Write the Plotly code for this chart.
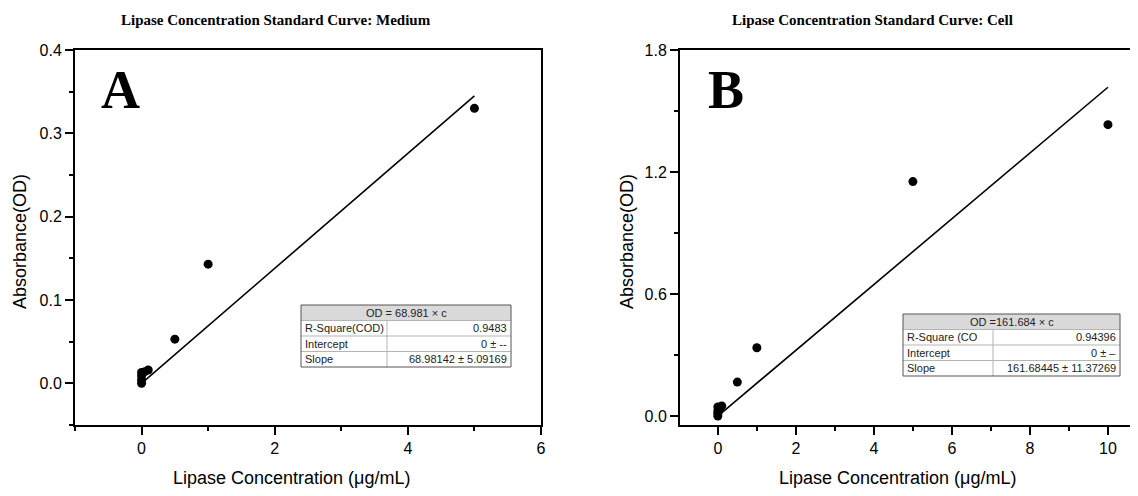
import plotly.graph_objects as go

# ---------------- data ----------------
medium_conc = [0, 0, 0, 0, 0.05, 0.1, 0.5, 1, 5]
medium_od = [0.0, 0.004, 0.009, 0.013, 0.014, 0.016, 0.053, 0.143, 0.330]
medium_slope = 0.068981
medium_fit_x = [0, 5]

cell_conc = [0, 0, 0, 0, 0.05, 0.1, 0.5, 1, 5, 10]
cell_od = [0.0, 0.012, 0.025, 0.045, 0.035, 0.05, 0.167, 0.336, 1.153, 1.433]
cell_slope = 0.161684
cell_fit_x = [0, 10]

medium_table = [["R-Square(COD)", "0.9483"], ["Intercept", "0 ± --"], ["Slope", "68.98142 ± 5.09169"]]
medium_eq = "OD = 68.981 × c"
cell_table = [["R-Square (CO", "0.94396"], ["Intercept", "0 ± –"], ["Slope", "161.68445 ± 11.37269"]]
cell_eq = "OD =161.684 × c"

# page body has an 8px margin: the figure occupies 8..1138 x 8..496 of the window
OFF = 8
W, H = 1138 - OFF, 496 - OFF
def px(x):
    return (x - OFF) / W
def py(y):
    return 1 - (y - OFF) / H

SANS = "Liberation Sans, Arial, sans-serif"
SERIF = "Liberation Serif, Times New Roman, serif"

fig = go.Figure()
fig.add_trace(go.Scatter(x=medium_conc, y=medium_od, mode="markers",
                         marker=dict(color="black", size=9), xaxis="x", yaxis="y", showlegend=False))
fig.add_trace(go.Scatter(x=medium_fit_x, y=[medium_slope * v for v in medium_fit_x], mode="lines",
                         line=dict(color="black", width=1.6), xaxis="x", yaxis="y", showlegend=False))
fig.add_trace(go.Scatter(x=cell_conc, y=cell_od, mode="markers",
                         marker=dict(color="black", size=9), xaxis="x2", yaxis="y2", showlegend=False))
fig.add_trace(go.Scatter(x=cell_fit_x, y=[cell_slope * v for v in cell_fit_x], mode="lines",
                         line=dict(color="black", width=1.6), xaxis="x2", yaxis="y2", showlegend=False))

def axis_common(**kw):
    d = dict(showline=True, linecolor="black", linewidth=2, ticks="outside", ticklen=8,
             tickwidth=2, tickcolor="black", showgrid=False, zeroline=False,
             tickfont=dict(family=SANS, size=16, color="black"), automargin=False)
    d.update(kw)
    return d

def minor(dt):
    return dict(dtick=dt, tick0=0, ticks="outside", ticklen=4, tickwidth=2, tickcolor="black")

ydom = [py(425), py(50)]
fig.update_layout(
    width=W, height=H, margin=dict(l=0, r=0, t=0, b=0),
    paper_bgcolor="white", plot_bgcolor="white",
    xaxis=axis_common(domain=[px(75), px(541)], range=[-1, 6], tick0=0, dtick=2, mirror=True, anchor="y",
                      minor=minor(1)),
    yaxis=axis_common(domain=ydom, range=[-0.05, 0.4], tick0=0, dtick=0.1, tickformat=".1f", mirror=True, anchor="x",
                      minor=minor(0.05)),
    xaxis2=axis_common(domain=[px(680), 1.0], range=[-0.97, 10.77], tick0=0, dtick=2, mirror=True, anchor="y2",
                       minor=minor(1)),
    yaxis2=axis_common(domain=ydom, range=[-0.044, 1.8], tick0=0, dtick=0.6, tickformat=".1f", mirror=False, anchor="x2",
                       minor=minor(0.3)),
)

ann = []
shapes = []
# titles
ann.append(dict(text="<b>Lipase Concentration Standard Curve: Medium</b>", x=px(276), y=py(20), xref="paper", yref="paper",
                showarrow=False, font=dict(family=SERIF, size=15, color="black"), xanchor="center", yanchor="middle"))
ann.append(dict(text="<b>Lipase Concentration Standard Curve: Cell</b>", x=px(872), y=py(20), xref="paper", yref="paper",
                showarrow=False, font=dict(family=SERIF, size=15, color="black"), xanchor="center", yanchor="middle"))
# panel letters
for letter, x0 in (("A", 99), ("B", 706)):
    ann.append(dict(text="<b>%s</b>" % letter, x=px(x0), y=py(90), xref="paper", yref="paper", showarrow=False,
                    font=dict(family=SERIF, size=54, color="black"), xanchor="left", yanchor="middle"))
# axis titles
for xc in (292, 898):
    ann.append(dict(text="Lipase Concentration (μg/mL)", x=px(xc), y=py(478), xref="paper", yref="paper", showarrow=False,
                    font=dict(family=SANS, size=18, color="black"), xanchor="center", yanchor="middle"))
for xc in (20, 627):
    ann.append(dict(text="Absorbance(OD)", x=px(xc), y=py(242), xref="paper", yref="paper", showarrow=False, textangle=-90,
                    font=dict(family=SANS, size=18, color="black"), xanchor="center", yanchor="middle"))

# fit tables
def table(left, right, top, div, rowh, eq, rows):
    bottom = top + rowh * 4
    shapes.append(dict(type="rect", xref="paper", yref="paper", x0=px(left), x1=px(right), y0=py(top), y1=py(top + rowh),
                       fillcolor="#dadada", line=dict(width=0), layer="above"))
    for i in range(1, 4):
        yy = top + rowh * i
        shapes.append(dict(type="line", xref="paper", yref="paper", x0=px(left), x1=px(right), y0=py(yy), y1=py(yy),
                           line=dict(color="#b5b5b5", width=1), layer="above"))
    shapes.append(dict(type="line", xref="paper", yref="paper", x0=px(div), x1=px(div), y0=py(top + rowh), y1=py(bottom),
                       line=dict(color="#b5b5b5", width=1), layer="above"))
    shapes.append(dict(type="rect", xref="paper", yref="paper", x0=px(left), x1=px(right), y0=py(top), y1=py(bottom),
                       line=dict(color="#555555", width=1), layer="above"))
    f = dict(family=SANS, size=11, color="#222222")
    ann.append(dict(text=eq, x=px((left + right) / 2), y=py(top + rowh / 2), xref="paper", yref="paper", showarrow=False,
                    font=f, xanchor="center", yanchor="middle"))
    for i, (a, b) in enumerate(rows):
        yc = top + rowh * (i + 1.5)
        ann.append(dict(text=a, x=px(left + 2), y=py(yc), xref="paper", yref="paper", showarrow=False, font=f,
                        xanchor="left", yanchor="middle"))
        ann.append(dict(text=b, x=px(right - 2), y=py(yc), xref="paper", yref="paper", showarrow=False, font=f,
                        xanchor="right", yanchor="middle"))

table(301, 511, 305, 387, 15.5, medium_eq, medium_table)
table(903, 1120, 314, 993, 15.5, cell_eq, cell_table)

fig.update_layout(annotations=ann, shapes=shapes)
fig.write_html("out.html")
